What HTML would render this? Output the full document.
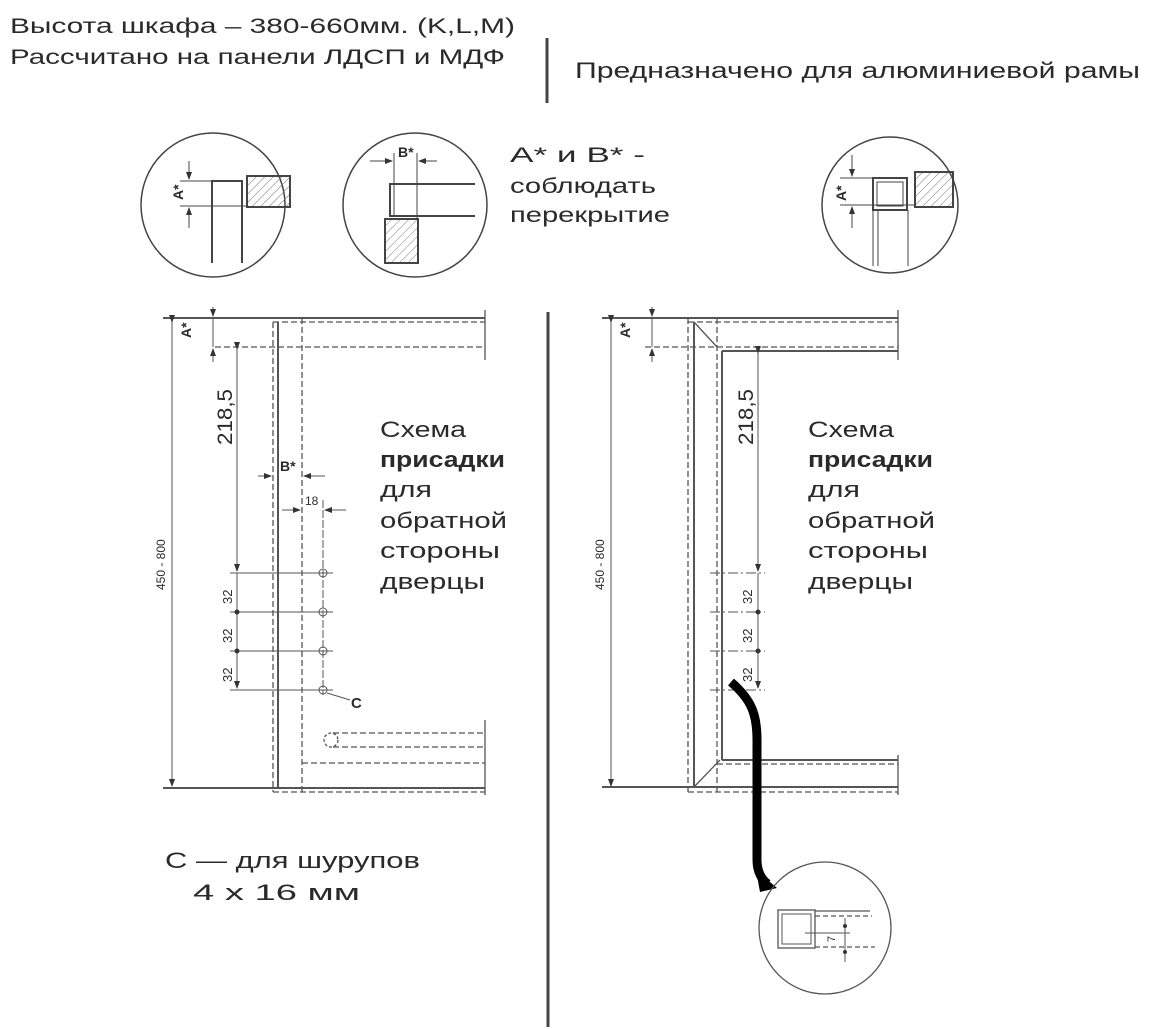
<!DOCTYPE html>
<html><head><meta charset="utf-8"><style>
html,body{margin:0;padding:0;background:#fff}
svg{display:block}
text{font-family:"Liberation Sans",sans-serif;fill:#2a2a2a}
</style></head><body>
<svg width="1165" height="1029" viewBox="0 0 1165 1029" xmlns="http://www.w3.org/2000/svg">
<defs>
<pattern id="h" width="6" height="6" patternUnits="userSpaceOnUse" patternTransform="rotate(45)"><line x1="0" y1="0" x2="0" y2="6" stroke="#777" stroke-width="1"/></pattern>
<marker id="ar" markerWidth="8" markerHeight="8" refX="7" refY="4" orient="auto"><path d="M0,1 L8,4 L0,7 z" fill="#333"/></marker>
</defs>
<g font-size="21">
<text x="10" y="33" textLength="505" lengthAdjust="spacingAndGlyphs">Высота шкафа – 380-660мм. (K,L,M)</text>
<text x="10" y="64" textLength="495" lengthAdjust="spacingAndGlyphs">Рассчитано на панели ЛДСП и МДФ</text>
<text x="575" y="78" font-size="22" textLength="565" lengthAdjust="spacingAndGlyphs">Предназначено для алюминиевой рамы</text>
<text x="510" y="162" textLength="135" lengthAdjust="spacingAndGlyphs">A* и B* -</text>
<text x="510" y="193" textLength="146" lengthAdjust="spacingAndGlyphs">соблюдать</text>
<text x="510" y="222" textLength="160" lengthAdjust="spacingAndGlyphs">перекрытие</text>
</g>
<line x1="547" y1="38" x2="547" y2="103" stroke="#444" stroke-width="3"/>
<line x1="548" y1="312" x2="548" y2="1027" stroke="#444" stroke-width="3"/>

<g fill="none" stroke="#444" stroke-width="1.5">
<circle cx="213" cy="205" r="72"/>
<path d="M212,263 V181 H242 V263" stroke-width="2"/>
<rect x="247" y="176" width="43" height="31" fill="url(#h)" stroke-width="2"/>
<line x1="180" y1="181" x2="212" y2="181" stroke-width="1"/>
<line x1="180" y1="206" x2="247" y2="206" stroke-width="1"/>
<line x1="189" y1="161" x2="189" y2="179" stroke-width="1" marker-end="url(#ar)"/>
<line x1="189" y1="228" x2="189" y2="208" stroke-width="1" marker-end="url(#ar)"/>
<circle cx="415" cy="205" r="72"/>
<path d="M475,184 H390 V216 H475" stroke-width="2"/>
<rect x="385" y="219" width="33" height="44" fill="url(#h)" stroke-width="2"/>
<line x1="394" y1="153" x2="394" y2="216" stroke-width="1"/>
<line x1="417" y1="153" x2="417" y2="219" stroke-width="1"/>
<line x1="370" y1="161" x2="392" y2="161" stroke-width="1" marker-end="url(#ar)"/>
<line x1="437" y1="161" x2="419" y2="161" stroke-width="1" marker-end="url(#ar)"/>
<circle cx="890" cy="205" r="68"/>
<rect x="873" y="178" width="34" height="32" stroke-width="2"/>
<rect x="877" y="182" width="26" height="24" stroke-width="1"/>
<rect x="915" y="172" width="38" height="35" fill="url(#h)" stroke-width="2"/>
<line x1="840" y1="178" x2="873" y2="178" stroke-width="1"/>
<line x1="840" y1="205" x2="915" y2="205" stroke-width="1"/>
<line x1="852" y1="155" x2="852" y2="176" stroke-width="1" marker-end="url(#ar)"/>
<line x1="852" y1="228" x2="852" y2="207" stroke-width="1" marker-end="url(#ar)"/>
<path d="M873,210 V266 M878,210 V266 M908,210 V266" stroke-width="1"/>
</g>
<g font-weight="bold" font-size="14">
<text transform="translate(183,200) rotate(-90)">A*</text>
<text x="398" y="157">B*</text>
<text transform="translate(846,201) rotate(-90)">A*</text>
</g>

<g fill="none" stroke="#555" stroke-width="1.3">
<line x1="163" y1="318" x2="485" y2="318" stroke-width="2"/>
<line x1="273" y1="322" x2="485" y2="322" stroke-dasharray="6,3"/>
<line x1="215" y1="347" x2="485" y2="347" stroke-dasharray="6,3"/>
<line x1="485" y1="310" x2="485" y2="360"/>
<line x1="273" y1="322" x2="273" y2="792" stroke-dasharray="6,3"/>
<line x1="278" y1="322" x2="278" y2="788" stroke-width="2"/>
<line x1="302" y1="318" x2="302" y2="792" stroke-dasharray="6,3"/>
<line x1="163" y1="788" x2="485" y2="788" stroke-width="2"/>
<line x1="273" y1="792" x2="485" y2="792" stroke-dasharray="6,3"/>
<line x1="302" y1="763" x2="485" y2="763" stroke-dasharray="6,3"/>
<line x1="333" y1="733" x2="485" y2="733" stroke-dasharray="6,3"/>
<line x1="333" y1="747" x2="485" y2="747" stroke-dasharray="6,3"/>
<circle cx="331" cy="740" r="7" stroke-dasharray="3,2"/>
<line x1="485" y1="720" x2="485" y2="795"/>
<line x1="172" y1="322" x2="172" y2="786" marker-start="url(#ar)" marker-end="url(#ar)" stroke-width="1"/>
<line x1="213" y1="307" x2="213" y2="316" marker-end="url(#ar)" stroke-width="1"/>
<line x1="213" y1="362" x2="213" y2="349" marker-end="url(#ar)" stroke-width="1"/>
<line x1="213" y1="318" x2="213" y2="347" stroke-width="1"/>
<line x1="237" y1="349" x2="237" y2="571" marker-start="url(#ar)" marker-end="url(#ar)" stroke-width="1"/>
<line x1="237" y1="573" x2="237" y2="688" marker-end="url(#ar)" stroke-width="1"/>
<line x1="258" y1="476" x2="271" y2="476" marker-end="url(#ar)" stroke-width="1"/>
<line x1="325" y1="476" x2="304" y2="476" marker-end="url(#ar)" stroke-width="1"/>
<line x1="282" y1="510" x2="300" y2="510" marker-end="url(#ar)" stroke-width="1"/>
<line x1="346" y1="510" x2="325" y2="510" marker-end="url(#ar)" stroke-width="1"/>
<line x1="323" y1="500" x2="323" y2="695" stroke-width="1" stroke-dasharray="8,2"/>
<g stroke-width="1">
<line x1="230" y1="573" x2="333" y2="573"/><line x1="230" y1="612" x2="333" y2="612"/>
<line x1="230" y1="651" x2="333" y2="651"/><line x1="230" y1="690" x2="333" y2="690"/>
<circle cx="323" cy="573" r="4"/><circle cx="323" cy="612" r="4"/><circle cx="323" cy="651" r="4"/><circle cx="323" cy="690" r="4"/>
<line x1="327" y1="693" x2="350" y2="700"/>
</g>
</g>
<circle cx="237" cy="612" r="2.5" fill="#333"/><circle cx="237" cy="651" r="2.5" fill="#333"/>

<g fill="none" stroke="#555" stroke-width="1.3">
<line x1="602" y1="318" x2="898" y2="318" stroke-width="2"/>
<line x1="688" y1="322" x2="898" y2="322" stroke-dasharray="6,3"/>
<line x1="645" y1="347" x2="898" y2="347" stroke-dasharray="6,3"/>
<line x1="722" y1="351" x2="898" y2="351" stroke-width="2"/>
<line x1="898" y1="310" x2="898" y2="360"/>
<line x1="688" y1="318" x2="688" y2="792" stroke-dasharray="6,3"/>
<line x1="694" y1="322" x2="694" y2="787" stroke-width="2"/>
<line x1="717" y1="318" x2="717" y2="792" stroke-dasharray="6,3"/>
<line x1="722" y1="351" x2="722" y2="760" stroke-width="2"/>
<line x1="694" y1="322" x2="717" y2="347"/>
<line x1="694" y1="787" x2="720" y2="760"/>
<line x1="722" y1="760" x2="898" y2="760" stroke-width="2"/>
<line x1="717" y1="764" x2="898" y2="764" stroke-dasharray="6,3"/>
<line x1="602" y1="787" x2="898" y2="787" stroke-width="2"/>
<line x1="688" y1="792" x2="898" y2="792" stroke-dasharray="6,3"/>
<line x1="898" y1="755" x2="898" y2="795"/>
<line x1="611" y1="322" x2="611" y2="786" marker-start="url(#ar)" marker-end="url(#ar)" stroke-width="1"/>
<line x1="652" y1="307" x2="652" y2="316" marker-end="url(#ar)" stroke-width="1"/>
<line x1="652" y1="362" x2="652" y2="349" marker-end="url(#ar)" stroke-width="1"/>
<line x1="652" y1="318" x2="652" y2="347" stroke-width="1"/>
<line x1="758" y1="353" x2="758" y2="571" marker-start="url(#ar)" marker-end="url(#ar)" stroke-width="1"/>
<line x1="758" y1="573" x2="758" y2="688" marker-end="url(#ar)" stroke-width="1"/>
<g stroke-width="1" stroke-dasharray="10,3,2,3">
<line x1="710" y1="573" x2="765" y2="573"/><line x1="710" y1="612" x2="765" y2="612"/>
<line x1="710" y1="651" x2="765" y2="651"/><line x1="710" y1="690" x2="765" y2="690"/>
</g>
</g>
<circle cx="758" cy="612" r="2.5" fill="#333"/><circle cx="758" cy="651" r="2.5" fill="#333"/>

<path d="M731,682 C752,700 757,715 757,740 L757,860 C757,872 762,880 768,884" fill="none" stroke="#000" stroke-width="9"/>
<path d="M756,870 L777,888 L760,892 z" fill="#000"/>

<g fill="none" stroke="#555" stroke-width="1.3">
<circle cx="825" cy="928" r="66"/>
<rect x="778" y="910" width="37" height="38"/>
<rect x="782" y="914" width="29" height="30" stroke-width="1"/>
<line x1="815" y1="911" x2="870" y2="911"/>
<line x1="815" y1="916" x2="872" y2="916" stroke-dasharray="5,3"/>
<line x1="815" y1="947" x2="875" y2="947" stroke-dasharray="5,3"/>
<line x1="805" y1="933" x2="850" y2="933" stroke-width="1"/>
<line x1="845" y1="918" x2="845" y2="962" stroke-width="1"/>
</g>
<circle cx="845" cy="926" r="2" fill="#333"/><circle cx="845" cy="952" r="2" fill="#333"/>
<text transform="translate(835,942) rotate(-90)" font-size="11">7</text>

<g font-size="12">
<text transform="translate(165,590) rotate(-90)" font-family="Liberation Serif,serif">450 - 800</text>
<text transform="translate(604,590) rotate(-90)" font-family="Liberation Serif,serif">450 - 800</text>
<text transform="translate(232,604) rotate(-90)" font-size="13">32</text>
<text transform="translate(232,643) rotate(-90)" font-size="13">32</text>
<text transform="translate(232,682) rotate(-90)" font-size="13">32</text>
<text transform="translate(752,604) rotate(-90)" font-size="13">32</text>
<text transform="translate(752,643) rotate(-90)" font-size="13">32</text>
<text transform="translate(752,682) rotate(-90)" font-size="13">32</text>
<text x="305" y="505" font-size="12">18</text>
</g>
<text transform="translate(191,338) rotate(-90)" font-size="14" font-weight="bold">A*</text>
<text transform="translate(630,338) rotate(-90)" font-size="14" font-weight="bold">A*</text>
<text x="280" y="471" font-size="14" font-weight="bold">B*</text>
<text x="351" y="708" font-size="15" font-weight="bold">C</text>
<text transform="translate(232,445) rotate(-90)" font-size="21" textLength="56" lengthAdjust="spacingAndGlyphs">218,5</text>
<text transform="translate(753,445) rotate(-90)" font-size="21" textLength="56" lengthAdjust="spacingAndGlyphs">218,5</text>
<g font-size="22" lengthAdjust="spacingAndGlyphs">
<text x="380" y="437" textLength="86" lengthAdjust="spacingAndGlyphs">Схема</text>
<text x="380" y="467" textLength="125" lengthAdjust="spacingAndGlyphs" font-weight="bold" fill="#222">присадки</text>
<text x="380" y="497" textLength="52" lengthAdjust="spacingAndGlyphs">для</text>
<text x="380" y="528" textLength="127" lengthAdjust="spacingAndGlyphs">обратной</text>
<text x="380" y="558" textLength="120" lengthAdjust="spacingAndGlyphs">стороны</text>
<text x="380" y="589" textLength="105" lengthAdjust="spacingAndGlyphs">дверцы</text>
<text x="808" y="437" textLength="86" lengthAdjust="spacingAndGlyphs">Схема</text>
<text x="808" y="467" textLength="125" lengthAdjust="spacingAndGlyphs" font-weight="bold" fill="#222">присадки</text>
<text x="808" y="497" textLength="52" lengthAdjust="spacingAndGlyphs">для</text>
<text x="808" y="528" textLength="127" lengthAdjust="spacingAndGlyphs">обратной</text>
<text x="808" y="558" textLength="120" lengthAdjust="spacingAndGlyphs">стороны</text>
<text x="808" y="589" textLength="105" lengthAdjust="spacingAndGlyphs">дверцы</text>
<text x="165" y="868" textLength="255" lengthAdjust="spacingAndGlyphs">C — для  шурупов</text>
<text x="193" y="900" textLength="167" lengthAdjust="spacingAndGlyphs">4 x 16 мм</text>
</g>
</svg>
</body></html>
